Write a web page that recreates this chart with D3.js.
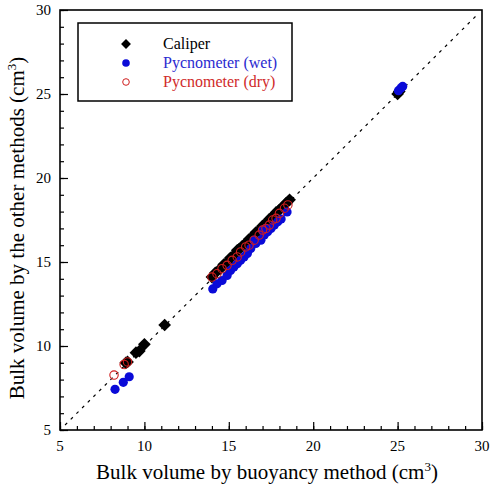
<!DOCTYPE html>
<html>
<head>
<meta charset="utf-8">
<script src="https://cdn.jsdelivr.net/npm/d3@7"></script>
<style>
body { margin: 0; background: #fff; }
</style>
</head>
<body>
<div id="chart-area"></div>
<script>
// data
var caliperX = [8.9, 9.0, 9.5, 9.7, 10.0, 11.2, 14.0, 14.2, 14.5, 14.7, 14.9, 15.1, 15.3, 15.5, 15.6, 15.8, 16.0, 16.2, 16.4, 16.6, 16.8, 17.0, 17.2, 17.4, 17.6, 17.8, 18.0, 18.2, 18.4, 18.6, 25.0, 25.1]
var caliperY = [9.0, 9.05, 9.6, 9.7, 10.1, 11.25, 14.1, 14.35, 14.6, 14.85, 15.0, 15.25, 15.4, 15.7, 15.75, 15.95, 16.1, 16.35, 16.5, 16.75, 16.9, 17.15, 17.3, 17.55, 17.7, 17.95, 18.1, 18.3, 18.5, 18.7, 25.0, 25.15]

var wetX = [8.26, 8.75, 9.1, 14.05, 14.3, 14.6, 14.9, 15.1, 15.3, 15.5, 15.7, 15.9, 16.1, 16.3, 16.5, 16.6, 16.9, 17.0, 17.1, 17.2, 17.3, 17.5, 17.7, 17.9, 18.1, 18.45, 25.05, 25.2, 25.3]
var wetY = [7.42, 7.84, 8.17, 13.4, 13.7, 13.9, 14.2, 14.5, 14.7, 14.9, 15.1, 15.3, 15.5, 15.8, 16.3, 16.1, 16.3, 16.9, 16.6, 17.0, 16.8, 17.0, 17.2, 17.4, 17.56, 17.98, 25.2, 25.35, 25.45]

var dryX = [8.2, 8.8, 9.0, 14.0, 14.3, 14.6, 14.9, 15.2, 15.5, 15.7, 16.0, 16.2, 16.5, 16.8, 17.0, 17.2, 17.4, 17.6, 17.8, 18.0, 18.3, 18.5]
var dryY = [8.27, 8.9, 9.05, 14.1, 14.3, 14.6, 14.8, 15.1, 15.3, 15.6, 15.9, 16.0, 16.3, 16.6, 16.9, 17.0, 17.2, 17.5, 17.6, 17.9, 18.2, 18.4]

var ticks = [5, 10, 15, 20, 25, 30]
var minorTicks = d3.range(5, 31)

var legendNames = ["Caliper", "Pycnometer (wet)", "Pycnometer (dry)"]
var legendColors = ["#000000", "#2a2ad0", "#d02a2a"]

var width = 491
var height = 486
var margin = {top: 10, right: 9, bottom: 56, left: 60}
var w = width - margin.left - margin.right
var h = height - margin.top - margin.bottom
var serif = "'Liberation Serif', 'Times New Roman', 'DejaVu Serif', serif"

var svg = d3.select("#chart-area").append("svg")
.attr("width", width)
.attr("height", height)
.attr("font-family", serif)

var g = svg.append("g")
.attr("transform", "translate(" + margin.left + ", " + margin.top + ")")

var x = d3.scaleLinear().domain([5, 30]).range([0, w])
var y = d3.scaleLinear().domain([5, 30]).range([h, 0])

// minor + major ticks, inward
var xMinor = d3.axisTop(x).tickValues(minorTicks).tickSize(4).tickFormat("")
var xMajor = d3.axisTop(x).tickValues(ticks).tickSize(8).tickFormat("")
var yMinor = d3.axisRight(y).tickValues(minorTicks).tickSize(4).tickFormat("")
var yMajor = d3.axisRight(y).tickValues(ticks).tickSize(8).tickFormat("")

g.append("g").attr("transform", "translate(0, " + h + ")").call(xMinor)
g.append("g").attr("transform", "translate(0, " + h + ")").call(xMajor)
g.append("g").call(yMinor)
g.append("g").call(yMajor)
g.selectAll(".domain").remove()
g.selectAll(".tick line").attr("stroke", "#000").attr("stroke-width", 1.2)

// tick labels
g.selectAll(".xlab").data(ticks).enter().append("text")
.attr("x", d => x(d))
.attr("y", h + 21)
.attr("text-anchor", "middle")
.attr("font-family", serif)
.attr("font-size", "15px")
.text(d => d)

g.selectAll(".ylab").data(ticks).enter().append("text")
.attr("x", -9)
.attr("y", d => y(d) + 5)
.attr("text-anchor", "end")
.attr("font-family", serif)
.attr("font-size", "15px")
.text(d => d)

// frame
g.append("rect")
.attr("width", w)
.attr("height", h)
.attr("fill", "none")
.attr("stroke", "#000")
.attr("stroke-width", 1.6)

// 1:1 line
g.append("line")
.attr("x1", x(5.3)).attr("y1", y(5.3))
.attr("x2", x(29.8)).attr("y2", y(29.8))
.attr("stroke", "#000")
.attr("stroke-width", 1.2)
.attr("stroke-dasharray", "3,5")

// caliper
g.selectAll(".cal").data(caliperX).enter().append("rect")
.attr("x", -4.5).attr("y", -4.5)
.attr("width", 9).attr("height", 9)
.attr("transform", (d, i) => "translate(" + x(d) + "," + y(caliperY[i]) + ") rotate(45)")
.attr("fill", "#000")

// wet
g.selectAll(".wet").data(wetX).enter().append("circle")
.attr("cx", d => x(d))
.attr("cy", (d, i) => y(wetY[i]))
.attr("r", 4.6)
.attr("fill", "#0a0ad8")

// dry
g.selectAll(".dry").data(dryX).enter().append("circle")
.attr("cx", d => x(d))
.attr("cy", (d, i) => y(dryY[i]))
.attr("r", 4.2)
.attr("fill", "none")
.attr("stroke", "#d01e1e")
.attr("stroke-width", 1.1)

// legend
var lg = svg.append("g").attr("transform", "translate(78, 23)")
lg.append("rect")
.attr("width", 214)
.attr("height", 78)
.attr("fill", "#fff")
.attr("stroke", "#000")
.attr("stroke-width", 1.5)

lg.append("rect")
.attr("x", -3.5).attr("y", -3.5).attr("width", 7).attr("height", 7)
.attr("transform", "translate(48, 21) rotate(45)")
.attr("fill", "#000")
lg.append("circle").attr("cx", 48).attr("cy", 40).attr("r", 3.8).attr("fill", "#0a0ad8")
lg.append("circle").attr("cx", 48).attr("cy", 59).attr("r", 3.3)
.attr("fill", "none").attr("stroke", "#d01e1e").attr("stroke-width", 1)

lg.selectAll(".ltxt").data(legendNames).enter().append("text")
.attr("x", 85)
.attr("y", (d, i) => 26 + i * 19)
.attr("font-family", serif)
.attr("font-size", "16px")
.attr("fill", (d, i) => legendColors[i])
.text(d => d)

// axis titles
var xt = svg.append("text")
.attr("x", 267)
.attr("y", 479)
.attr("text-anchor", "middle")
.attr("font-family", serif)
.attr("font-size", "21px")
xt.append("tspan").text("Bulk volume by buoyancy method (cm")
xt.append("tspan").attr("font-size", "13px").attr("dy", -8).text("3")
xt.append("tspan").attr("dy", 8).text(")")

var yt = svg.append("text")
.attr("transform", "translate(24, 228) rotate(-90)")
.attr("text-anchor", "middle")
.attr("font-family", serif)
.attr("font-size", "21px")
yt.append("tspan").text("Bulk volume by the other methods (cm")
yt.append("tspan").attr("font-size", "13px").attr("dy", -8).text("3")
yt.append("tspan").attr("dy", 8).text(")")
</script>
</body>
</html>
